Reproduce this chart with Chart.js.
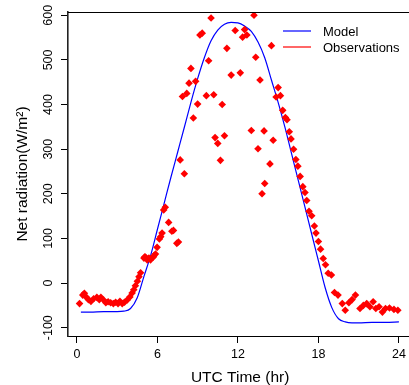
<!DOCTYPE html>
<html>
<head>
<meta charset="utf-8">
<script src="https://cdn.jsdelivr.net/npm/chart.js@4.4.0/dist/chart.umd.min.js"></script>
<style>
html, body { margin: 0; padding: 0; overflow: hidden; background: #fff; }
#chart { display: block; }
</style>
</head>
<body>
<canvas id="chart" width="416" height="385"></canvas>
<script>
const obsTime = [0.2,0.44,0.56,0.69,0.86,1.05,1.25,1.49,1.67,1.79,
  1.99,2.16,2.33,2.52,2.72,2.89,3.07,3.21,3.38,3.55,
  3.75,3.95,4.12,4.24,4.36,4.51,4.63,4.75,5.0,5.07,
  5.12,5.24,5.37,5.49,5.68,5.74,5.86,5.98,6.15,6.25,
  6.35,6.47,6.59,6.84,7.08,7.2,7.45,7.57,7.7,7.87,
  8.01,8.19,8.36,8.5,8.68,8.85,9.0,9.17,9.34,9.65,
  9.82,10.0,10.2,10.3,10.5,10.7,10.83,11.0,11.18,11.5,
  11.8,12.18,12.35,12.5,12.67,13.0,13.2,13.33,13.5,13.65,
  13.8,13.95,14.0,14.39,14.5,14.63,14.85,15.0,15.17,15.34,
  15.54,15.66,15.83,15.96,16.15,16.32,16.47,16.64,16.84,17.0,
  17.13,17.3,17.5,17.7,17.82,18.0,18.16,18.36,18.53,18.73,
  18.97,19.2,19.46,19.78,20.0,20.27,20.51,20.76,21.1,21.35,
  21.6,21.84,22.08,22.28,22.52,22.77,23.0,23.3,23.63,23.92];
const obsValue = [-46,-27,-23,-31,-37,-41,-35,-32,-37,-32,
  -38,-44,-42,-44,-46,-43,-46,-41,-46,-43,
  -38,-31,-22,-15,-6,4,14,23,56,59,
  58,52,56,52,58,61,65,80,99,104,
  112,164,170,136,116,118,89,92,276,418,
  245,425,448,481,370,452,401,556,560,420,
  498,594,422,326,313,275,400,330,526,466,
  566,471,551,568,556,342,600,506,301,455,
  200,341,223,267,532,320,417,438,420,387,
  371,366,339,323,300,277,262,239,216,203,
  185,161,151,128,112,93,76,55,41,22,
  18,-21,-27,-46,-61,-44,-37,-27,-57,-50,
  -46,-53,-42,-57,-53,-65,-57,-56,-59,-61];

const modelTime = [0.3,1,2,3,3.5,4,4.5,5,5.5,6,6.5,7,7.5,8,8.5,9,9.5,10,10.5,11,11.5,
  12,12.5,13,13.5,14,14.5,15,15.5,16,16.5,17,17.5,18,18.5,19,19.5,20,20.5,21,22,23,24];
const modelValue = [-65,-65,-64,-64,-63,-57,-33,15,62,120,178,236,292,348,405,458,505,543,567,580,584,
  583,576,564,540,505,455,405,350,290,230,170,110,50,-10,-55,-80,-87,-89,-89,-88,-88,-87];

const xTicks = [0, 6, 12, 18, 24];
const yTicks = [-100, 0, 100, 200, 300, 400, 500, 600];
const seriesNames = ["Model", "Observations"];
const seriesColors = ["#0000FF", "#FF0000"];

const fontFamily = "'Liberation Sans', Arial, Helvetica, sans-serif";

// R-like box and top-right legend
const extras = {
    id: 'extras',
    afterDraw(chart) {
        const { ctx, chartArea: a } = chart;
        ctx.save();
        ctx.strokeStyle = '#000';
        ctx.lineWidth = 1;
        ctx.beginPath();
        ctx.moveTo(a.left, Math.round(a.top) + 0.5);
        ctx.lineTo(a.right, Math.round(a.top) + 0.5);
        ctx.stroke();

        ctx.font = '13px ' + fontFamily;
        ctx.textBaseline = 'middle';
        ctx.textAlign = 'left';
        seriesNames.forEach((name, i) => {
            const y = 31 + i * 16;
            ctx.strokeStyle = seriesColors[i];
            ctx.lineWidth = 1.2;
            ctx.beginPath();
            ctx.moveTo(283, y);
            ctx.lineTo(311, y);
            ctx.stroke();
            ctx.fillStyle = '#000';
            ctx.fillText(name, 323, y + 1);
        });
        ctx.restore();
    }
};

const data = {
    datasets: [{
        type: 'scatter',
        label: seriesNames[1],
        data: obsTime.map((t, i) => ({ x: t, y: obsValue[i] })),
        pointStyle: 'rectRot',
        pointRadius: 3.8,
        pointHoverRadius: 3.8,
        backgroundColor: seriesColors[1],
        borderWidth: 0,
        showLine: false
    }, {
        type: 'line',
        label: seriesNames[0],
        data: modelTime.map((t, i) => ({ x: t, y: modelValue[i] })),
        borderColor: seriesColors[0],
        borderWidth: 1.2,
        pointRadius: 0,
        cubicInterpolationMode: 'monotone',
        fill: false
    }]
};

const options = {
    responsive: false,
    animation: false,
    layout: { padding: { top: 12, left: 0, right: 0, bottom: 0 } },
    plugins: {
        legend: { display: false },
        tooltip: { enabled: false }
    },
    scales: {
        x: {
            type: 'linear',
            min: -0.66,
            max: 24.99,
            afterBuildTicks: s => { s.ticks = xTicks.map(v => ({ value: v })); },
            afterFit: s => { s.height = 49; },
            grid: { display: true, drawOnChartArea: false, tickLength: 7, tickColor: '#000' },
            border: { display: true, color: '#000', width: 1 },
            ticks: {
                autoSkip: false, maxRotation: 0, padding: 4, color: '#000',
                font: { family: fontFamily, size: 12.5 }
            },
            title: {
                display: true, text: 'UTC Time (hr)', color: '#000',
                font: { family: fontFamily, size: 15.5, lineHeight: 1 },
                padding: { top: 0, bottom: 0 }
            }
        },
        y: {
            type: 'linear',
            min: -118.6,
            max: 607.4,
            afterBuildTicks: s => { s.ticks = yTicks.map(v => ({ value: v })); },
            afterFit: s => { s.width = 68; },
            grid: { display: true, drawOnChartArea: false, tickLength: 7, tickColor: '#000' },
            border: { display: true, color: '#222', width: 1.6 },
            ticks: {
                autoSkip: false, minRotation: 90, maxRotation: 90, crossAlign: 'center',
                padding: 0, color: '#000',
                font: { family: fontFamily, size: 12.5 }
            },
            title: {
                display: true, text: 'Net radiation(W/m²)', color: '#000',
                font: { family: fontFamily, size: 15.5, lineHeight: 1 },
                padding: { top: 15, bottom: 0 }
            }
        }
    }
};

new Chart(document.getElementById('chart'), { data, options, plugins: [extras] });
</script>
</body>
</html>
